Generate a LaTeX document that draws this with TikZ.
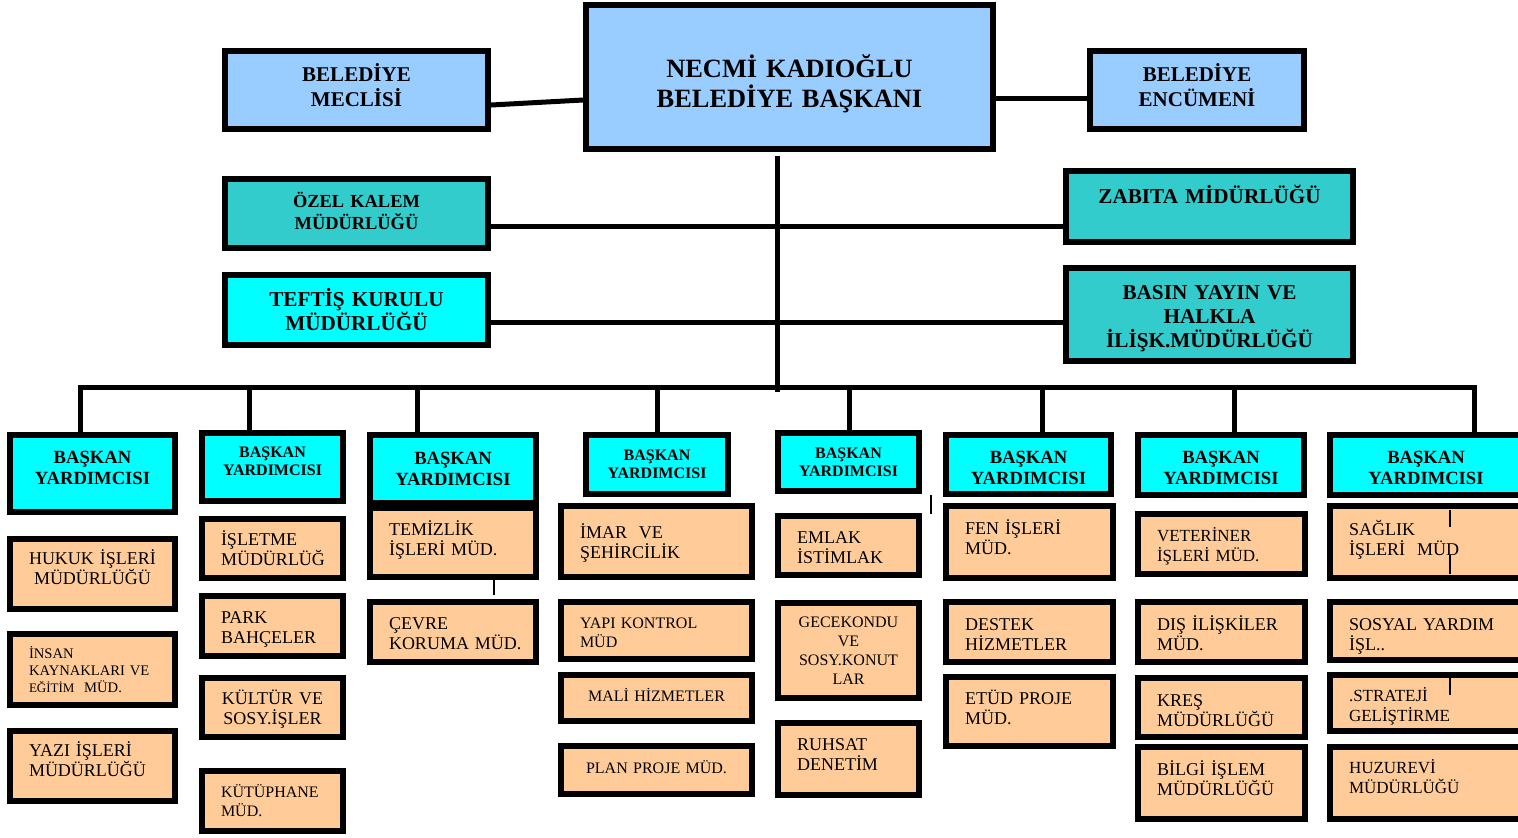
\documentclass[tikz,border=0pt]{standalone}
\usepackage{fontspec}
\setmainfont{Liberation Serif}
\definecolor{mavi}{HTML}{99CCFF}
\definecolor{yesil}{HTML}{33CCCC}
\definecolor{camgobegi}{HTML}{00FFFF}
\definecolor{turuncu}{HTML}{FFCC99}
\tikzset{kutu/.style  = {draw, line width=3pt, inner sep=0pt, align=center},
         bas/.style   = {kutu, fill=mavi, font=\bfseries\fontsize{13.2}{15}\selectfont},
         kurul/.style = {kutu, fill=mavi, font=\bfseries\fontsize{10.5}{12.5}\selectfont},
         birim/.style = {kutu, fill=yesil, font=\bfseries\fontsize{10.6}{12}\selectfont},
         yard/.style  = {kutu, fill=camgobegi, font=\bfseries\fontsize{9.3}{10.5}\selectfont},
         yardk/.style = {kutu, fill=camgobegi, font=\bfseries\fontsize{8}{9}\selectfont},
         mud/.style   = {kutu, fill=turuncu, inner xsep=9.5pt, align=left, font=\fontsize{9}{10}\selectfont},
         ort/.style   = {mud, align=center},
         kucuk/.style = {font=\fontsize{8}{9.5}\selectfont},
         kay/.style   = {execute at end node={\par\vspace{#1}\hrule height 0pt}},
         c1/.style = {text width=63.5pt}, c2/.style = {text width=51.5pt},
         c3/.style = {text width=64pt},   c4/.style = {text width=76.5pt},
         c5/.style = {text width=51.5pt}, c6/.style = {text width=64.5pt},
         c7/.style = {text width=64.5pt}, c8/.style = {text width=84.5pt},
         hat/.style = {line width=2.5pt}}

\begin{document}
\begin{tikzpicture}[x=0.5pt, y=-0.5pt]
  \useasboundingbox (0,0) rectangle (1518,837);
  \clip (0,0) rectangle (1518,837);
  % baskan ve kurullar
  \node[bas, text width=203.5pt, minimum height=72pt, kay=-7pt] (baskan) at (789.5,77) {NECMİ KADIOĞLU\\BELEDİYE BAŞKANI};
  \node[kurul, text width=131.5pt, minimum height=39pt, kay=4.5pt] (meclis) at (356.5,90) {BELEDİYE\\MECLİSİ};
  \node[kurul, text width=107pt, minimum height=39pt, kay=4.5pt] (encumen) at (1197,90) {BELEDİYE\\ENCÜMENİ};
  \node[birim, text width=131.5pt, minimum height=34.5pt, kay=3pt, font=\bfseries\fontsize{9.2}{11}\selectfont] (ozel) at (356.5,213.5) {ÖZEL KALEM\\MÜDÜRLÜĞÜ};
  \node[birim, text width=143.5pt, minimum height=35.5pt, kay=-3pt] (zabita) at (1209.5,206.5) {ZABITA MİDÜRLÜĞÜ\\\strut};
  \node[birim, fill=camgobegi, text width=131.5pt, minimum height=35pt] (teftis) at (356.5,310) {TEFTİŞ KURULU\\MÜDÜRLÜĞÜ};
  \node[birim, text width=143.5pt, minimum height=46.5pt, kay=-4pt] (basin) at (1209.5,314.5) {BASIN YAYIN VE\\HALKLA\\İLİŞK.MÜDÜRLÜĞÜ};

  \draw[hat] ([yshift=-7.5pt]meclis.east) -- ([yshift=-11.5pt]baskan.west);
  \draw[hat] (baskan.east |- 0,98) -- (encumen.west |- 0,98);
  \draw[hat] (ozel.east |- 0,226) -- (zabita.west |- 0,226);
  \draw[hat] (teftis.east |- 0,322) -- (basin.west |- 0,322);

  % baskan yardimcilari
  \node[yard, text width=82.5pt, minimum height=38.5pt, kay=5.5pt] (y1) at (92.5,473.5) {BAŞKAN\\YARDIMCISI};
  \node[yardk, text width=70.5pt, minimum height=34pt, kay=5.5pt] (y2) at (272.5,467) {BAŞKAN\\YARDIMCISI};
  \node[yard, text width=83pt, minimum height=34pt] (y3) at (453,469) {BAŞKAN\\YARDIMCISI};
  \node[yardk, text width=71pt, minimum height=29.5pt] (y4) at (657,464.5) {BAŞKAN\\YARDIMCISI};
  \node[yardk, text width=70.5pt, minimum height=29pt] (y5) at (848.5,462) {BAŞKAN\\YARDIMCISI};
  \node[yard, text width=82.5pt, minimum height=29.5pt, kay=-3pt] (y6) at (1028.5,464.5) {BAŞKAN\\YARDIMCISI};
  \node[yard, text width=83pt, minimum height=30pt, kay=-3pt] (y7) at (1221,465) {BAŞKAN\\YARDIMCISI};
  \node[yard, text width=96pt, minimum height=30pt, kay=-3pt] (y8) at (1426,465) {BAŞKAN\\YARDIMCISI};

  \coordinate (gov) at (777,392);
  \draw[hat] ([yshift=-2pt]baskan.south -| gov) -- (gov);
  \foreach \x [count=\i] in {80,249,417,657,849,1042,1234,1474}
    \coordinate (b\i) at (\x,387);
  \draw[hat, line cap=rect] (b1) -- (b8);
  \foreach \i in {1,...,8}
    \draw[hat] (b\i) -- (y\i.north -| b\i);

  % mudurlukler
  \node[ort, c1, minimum height=35pt, kay=7pt] (hukuk) at (92.5,574) {HUKUK İŞLERİ\\MÜDÜRLÜĞÜ};
  \node[mud, c1, minimum height=35.5pt, font=\fontsize{7.3}{8.5}\selectfont] (insan) at (92.5,669.5) {İNSAN\\KAYNAKLARI~VE\\{\fontsize{6.5}{8.5}\selectfont EĞİTİM}~~MÜD.};
  \node[mud, c1, minimum height=35pt, kay=6.5pt] (yazi) at (92.5,766) {YAZI İŞLERİ\\MÜDÜRLÜĞÜ};

  \node[mud, c2, minimum height=29.5pt] (isletme) at (272.5,548.5) {İŞLETME\\MÜDÜRLÜĞ};
  \node[mud, c2, minimum height=30pt, kay=-3pt] (park) at (272.5,626) {PARK\\BAHÇELER};
  \node[ort, c2, minimum height=29.5pt, kay=-2pt] (kultur) at (272.5,707.5) {KÜLTÜR~VE\\SOSY.İŞLER};
  \node[mud, c2, kucuk, minimum height=30pt] (kutup) at (272.5,801) {KÜTÜPHANE\\MÜD.};

  \node[mud, c3, minimum height=34.5pt, kay=3pt] (temiz) at (453,542.5) {TEMİZLİK\\İŞLERİ~MÜD.};
  \node[mud, c3, minimum height=30pt, kay=-1.5pt] (cevre) at (453,632) {ÇEVRE\\KORUMA~MÜD.};

  \node[mud, c4, minimum height=35.5pt, kay=-1pt] (imar) at (656.5,541.5) {İMAR~~VE\\ŞEHİRCİLİK};
  \node[mud, c4, kucuk, minimum height=28.5pt, kay=-2pt] (yapi) at (656.5,630.5) {YAPI~KONTROL\\MÜD};
  \node[ort, c4, kucuk, minimum height=23pt, kay=3pt] (mali) at (656.5,698) {MALİ~HİZMETLER};
  \node[ort, c4, kucuk, minimum height=24pt, kay=3pt] (plan) at (656.5,770) {PLAN~PROJE~MÜD.};

  \node[mud, c5, minimum height=29.5pt, kay=-2pt] (emlak) at (848.5,545.5) {EMLAK\\İSTİMLAK};
  \node[ort, c5, kucuk, minimum height=47.5pt] (gece) at (848.5,650.5) {GECEKONDU\\VE\\SOSY.KONUT\\LAR};
  \node[mud, c5, minimum height=36pt, kay=4pt] (ruhsat) at (848.5,759) {RUHSAT\\DENETİM};

  \node[mud, c6, minimum height=36pt, kay=4.5pt] (fen) at (1029.5,542) {FEN~İŞLERİ\\MÜD.};
  \node[mud, c6, minimum height=30pt, kay=-3pt] (destek) at (1029.5,632) {DESTEK\\HİZMETLER};
  \node[mud, c6, minimum height=34.5pt, kay=4pt] (etud) at (1029.5,711.5) {ETÜD~PROJE\\MÜD.};

  \node[mud, c7, font=\fontsize{8.5}{10}\selectfont, minimum height=30pt, kay=-2pt] (veter) at (1221.5,544) {VETERİNER\\İŞLERİ~MÜD.};
  \node[mud, c7, minimum height=30pt, kay=-1pt] (dis) at (1221.5,632) {DIŞ~İLİŞKİLER\\MÜD.};
  \node[mud, c7, minimum height=29.5pt, kay=-3pt] (kres) at (1221.5,707.5) {KREŞ\\MÜDÜRLÜĞÜ};
  \node[mud, c7, minimum height=36pt, kay=5pt] (bilgi) at (1221.5,783) {BİLGİ~İŞLEM\\MÜDÜRLÜĞÜ};

  \node[mud, c8, minimum height=36pt, kay=2pt] (saglik) at (1433.5,542) {SAĞLIK\\İŞLERİ~~MÜD};
  \node[mud, c8, minimum height=29pt, kay=-5pt] (sosyal) at (1433.5,631) {SOSYAL~YARDIM\\İŞL..};
  \node[mud, c8, font=\fontsize{8.5}{10}\selectfont, minimum height=28pt, kay=-3pt] (strat) at (1433.5,703) {.STRATEJİ\\GELİŞTİRME};
  \node[mud, c8, font=\fontsize{8.5}{10}\selectfont, minimum height=36pt, kay=6pt] (huzur) at (1433.5,783) {HUZUREVİ\\MÜDÜRLÜĞÜ};

  % kucuk cizgiler
  \draw[line width=1pt] (494,580) -- (494,595);
  \draw[line width=1pt] (931,495) -- (931,514);
  \draw[line width=1pt] (1450,510) -- (1450,527) (1450,555) -- (1450,574);
  \draw[line width=1pt] (1450,678) -- (1450,695);
\end{tikzpicture}
\end{document}
